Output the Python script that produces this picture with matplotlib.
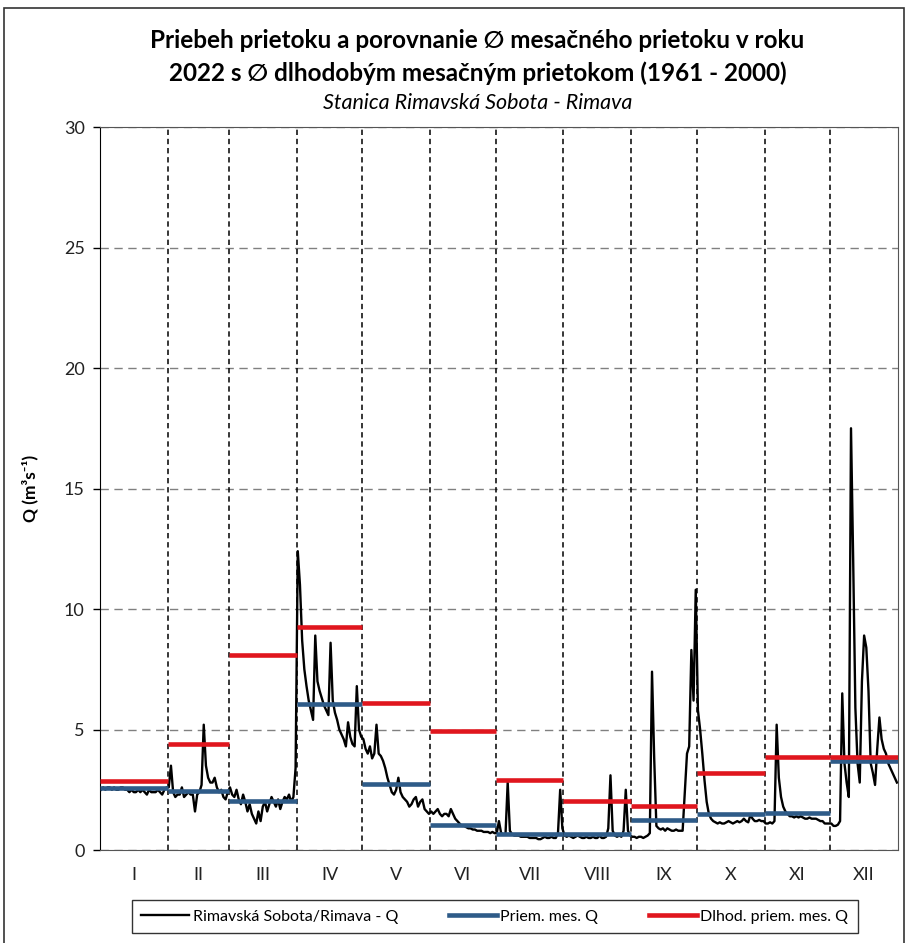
import numpy as np
import matplotlib
matplotlib.use('Agg')
import matplotlib.pyplot as plt
from matplotlib.lines import Line2D

plt.rcParams['font.family'] = ['Lato', 'DejaVu Sans']

# daily discharge 2022 (m3/s), one list per month
jan = [2.5, 2.6, 2.5, 2.6, 2.6, 2.5, 2.6, 2.5, 2.5, 2.6, 2.6, 2.5, 2.5, 2.4, 2.5, 2.4,
       2.4, 2.5, 2.4, 2.5, 2.4, 2.3, 2.5, 2.4, 2.4, 2.4, 2.5, 2.4, 2.3, 2.5, 2.6]
feb = [2.6, 3.5, 2.4, 2.2, 2.3, 2.3, 2.6, 2.2, 2.3, 2.4, 2.3, 2.3, 1.6, 2.3,
       2.4, 2.7, 5.2, 3.5, 3.0, 2.8, 2.8, 3.0, 2.6, 2.4, 2.5, 2.2, 2.1, 2.4]
mar = [2.6, 2.3, 2.2, 2.5, 2.1, 1.9, 2.3, 2.0, 1.6, 1.9, 1.5, 1.3, 1.1, 1.6, 1.2, 1.8,
       2.0, 1.6, 1.9, 2.2, 2.0, 1.8, 2.1, 1.7, 2.0, 2.2, 2.1, 2.3, 2.0, 2.2, 3.4]
apr = [12.4, 11.0, 8.7, 7.5, 6.8, 6.2, 5.8, 5.4, 8.9, 7.0, 6.6, 6.3, 6.0, 5.8, 5.6,
       8.6, 6.2, 5.7, 5.4, 5.0, 4.8, 4.6, 4.3, 5.3, 4.7, 4.4, 4.3, 6.8, 5.0, 4.7]
may = [4.6, 4.2, 4.0, 4.3, 3.8, 4.0, 5.2, 4.0, 3.9, 3.7, 3.4, 3.0, 2.7, 2.4, 2.3, 2.5,
       3.0, 2.4, 2.2, 2.1, 2.0, 1.8, 1.9, 2.1, 2.2, 1.8, 2.0, 2.1, 1.7, 1.6, 1.5]
jun = [1.6, 1.5, 1.6, 1.7, 1.5, 1.4, 1.5, 1.5, 1.4, 1.7, 1.5, 1.3, 1.2, 1.1, 1.0,
       1.0, 0.95, 0.9, 0.9, 0.85, 0.85, 0.8, 0.8, 0.8, 0.75, 0.75, 0.75, 0.7, 0.75, 0.7]
jul = [0.7, 1.2, 0.7, 0.65, 0.65, 2.8, 0.8, 0.65, 0.6, 0.6, 0.6, 0.55, 0.55, 0.55, 0.55, 0.5,
       0.5, 0.5, 0.5, 0.45, 0.45, 0.5, 0.55, 0.5, 0.5, 0.55, 0.5, 0.5, 0.7, 2.5, 0.9]
aug = [0.6, 0.55, 0.6, 0.55, 0.5, 0.55, 0.6, 0.55, 0.5, 0.5, 0.55, 0.5, 0.5, 0.55, 0.5, 0.5,
       0.6, 0.5, 0.5, 0.55, 0.9, 3.1, 0.8, 0.6, 0.55, 0.6, 0.55, 0.8, 2.5, 0.8, 0.6]
sep = [0.55, 0.55, 0.5, 0.55, 0.55, 0.5, 0.55, 0.6, 0.7, 7.4, 3.8, 1.0, 0.9, 0.85, 0.9,
       0.8, 0.9, 0.85, 0.8, 0.8, 0.85, 0.8, 0.8, 0.8, 2.4, 4.0, 4.3, 8.3, 6.2, 10.8]
oct_ = [5.8, 5.0, 4.0, 2.9, 2.0, 1.5, 1.3, 1.2, 1.15, 1.1, 1.15, 1.1, 1.1, 1.15, 1.2, 1.15,
        1.1, 1.15, 1.2, 1.15, 1.2, 1.3, 1.2, 1.15, 1.45, 1.3, 1.2, 1.2, 1.25, 1.2, 1.2]
nov = [1.1, 1.1, 1.15, 1.1, 1.2, 5.2, 3.0, 2.2, 1.8, 1.6, 1.5, 1.4, 1.4, 1.35, 1.4,
       1.35, 1.4, 1.35, 1.3, 1.3, 1.35, 1.3, 1.3, 1.3, 1.25, 1.2, 1.2, 1.1, 1.1, 1.1]
dec = [1.1, 1.0, 1.0, 1.05, 1.2, 6.5, 3.6, 2.8, 2.2, 17.5, 12.0, 5.9, 3.6, 2.8, 7.0, 8.9,
       8.4, 6.6, 3.6, 3.2, 2.7, 4.2, 5.5, 4.6, 4.2, 4.0, 3.6, 3.4, 3.2, 3.0, 2.8]

months = ['I', 'II', 'III', 'IV', 'V', 'VI', 'VII', 'VIII', 'IX', 'X', 'XI', 'XII']
# average monthly Q in 2022 and long-term average (1961-2000)
priem_q = [2.58, 2.46, 2.05, 6.06, 2.72, 1.02, 0.65, 0.65, 1.24, 1.49, 1.52, 3.70]
dlhod_q = [2.86, 4.38, 8.10, 9.27, 6.10, 4.92, 2.89, 2.03, 1.83, 3.21, 3.87, 3.85]

daily = [jan, feb, mar, apr, may, jun, jul, aug, sep, oct_, nov, dec]
ndays = np.array([len(m) for m in daily])
starts = np.concatenate([[0], np.cumsum(ndays)[:-1]])
ends = np.cumsum(ndays)
q = np.concatenate(daily)
x = np.arange(len(q)) + 0.5

fig = plt.figure(figsize=(9.08, 9.43), dpi=100)
ax = fig.add_axes([0.110, 0.0986, 0.879, 0.7667])

ax.plot(x, q, color='black', lw=1.7, zorder=3)
ax.hlines(priem_q, starts, ends, color='#2e5b88', lw=3.3, zorder=4)
ax.hlines(dlhod_q, starts, ends, color='#e0161e', lw=3.3, zorder=5)

for s in ends[:-1]:
    ax.axvline(s, color='black', lw=1.1, ls=(0, (3.5, 2.5)), zorder=2)

ax.set_xlim(0, ends[-1])
ax.set_ylim(0, 30)
ax.set_yticks(range(0, 31, 5))
ax.yaxis.grid(True, color='#808080', lw=1.0, ls=(0, (6, 4)))
ax.set_axisbelow(True)
ax.set_xticks((starts + ends) / 2)
ax.set_xticklabels(months, fontsize=13, color='#222222')
ax.tick_params(axis='x', length=0, pad=12)
ax.tick_params(axis='y', length=5, width=1, labelsize=13, labelcolor='#222222', pad=6)
for sp in ['top', 'right']:
    ax.spines[sp].set_color('#555555')
ax.spines['left'].set_color('black')
ax.spines['bottom'].set_color('#555555')

ax.set_ylabel('Q (m³s⁻¹)', fontsize=12.5, fontweight='bold', labelpad=18)

fig.text(0.526, 0.957, 'Priebeh prietoku a porovnanie \u2205 mesačného prietoku v roku',
         ha='center', va='center', fontsize=17.5, fontweight='bold')
fig.text(0.526, 0.922, '2022 s \u2205 dlhodobým mesačným prietokom (1961 - 2000)',
         ha='center', va='center', fontsize=17.5, fontweight='bold')
fig.text(0.526, 0.891, 'Stanica Rimavská Sobota - Rimava',
         ha='center', va='center', fontsize=15.5, fontstyle='italic')

handles = [Line2D([], [], color='black', lw=1.7),
           Line2D([], [], color='#2e5b88', lw=3.3),
           Line2D([], [], color='#e0161e', lw=3.3)]
labels = ['Rimavská Sobota/Rimava - Q', 'Priem. mes. Q', 'Dlhod. priem. mes. Q']
leg = fig.legend(handles, labels, loc='center', bbox_to_anchor=(0.545, 0.028), ncol=3,
                 fontsize=11.5, fancybox=False, edgecolor='black', handlelength=3.0,
                 handletextpad=0.2, columnspacing=3.2, borderpad=0.6, borderaxespad=0)
leg.get_frame().set_linewidth(1.0)

# chart area border
fig.add_artist(plt.Rectangle((0.004, -0.01), 0.992, 1.001, transform=fig.transFigure,
                             fill=False, edgecolor='#333333', lw=1.2))

fig.savefig('out.png', dpi=100)
